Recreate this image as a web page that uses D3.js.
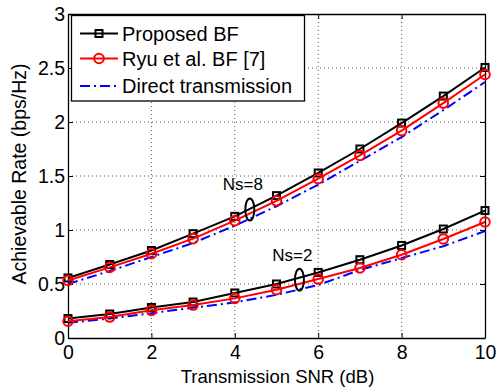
<!DOCTYPE html>
<html>
<head>
<meta charset="utf-8">
<script src="https://cdn.jsdelivr.net/npm/d3@7"></script>
<style>
  body { margin: 0; background: #fff; }
  svg text { font-family: "Liberation Sans", Arial, sans-serif; fill: #000; }
</style>
</head>
<body>
<div id="chart"></div>
<script>
// --- Data ---
const snr = [0, 1, 2, 3, 4, 5, 6, 7, 8, 9, 10];

const proposed8 = [0.556, 0.68, 0.81, 0.966, 1.126, 1.318, 1.528, 1.75, 1.99, 2.24, 2.505];
const ryu8      = [0.533, 0.654, 0.78, 0.92, 1.086, 1.27, 1.475, 1.69, 1.92, 2.175, 2.44];
const direct8   = [0.50, 0.62, 0.75, 0.88, 1.04, 1.22, 1.42, 1.64, 1.86, 2.11, 2.37];

const proposed2 = [0.18, 0.222, 0.283, 0.333, 0.417, 0.50, 0.607, 0.725, 0.857, 1.009, 1.18];
const ryu2      = [0.155, 0.194, 0.256, 0.305, 0.367, 0.447, 0.546, 0.648, 0.771, 0.917, 1.074];
const direct2   = [0.14, 0.18, 0.23, 0.28, 0.33, 0.40, 0.49, 0.63, 0.74, 0.85, 0.99];

const xTicks = [0, 2, 4, 6, 8, 10];
const yTicks = [0, 0.5, 1, 1.5, 2, 2.5, 3];

const legendNames = ['Proposed BF', 'Ryu et al. BF [7]', 'Direct transmission'];

// annotations: label + ellipse centre in data units
const notes = [
    { label: 'Ns=8', x: 4.36, y: 1.19 },
    { label: 'Ns=2', x: 5.55, y: 0.54 }
];

// --- Layout ---
const W = 496, H = 391;
const margin = { top: 14, right: 11, bottom: 53, left: 68 };
const width = W - margin.left - margin.right;
const height = H - margin.top - margin.bottom;

const svg = d3.select('#chart').append('svg')
    .attr('width', W)
    .attr('height', H);

const g = svg.append('g')
    .attr('transform', `translate(${margin.left},${margin.top})`);

const x = d3.scaleLinear().domain([0, 10]).range([0, width]);
const y = d3.scaleLinear().domain([0, 3]).range([height, 0]);

// grid
g.append('g').selectAll('line')
    .data(xTicks.slice(1, -1))
    .join('line')
    .attr('x1', d => x(d)).attr('x2', d => x(d))
    .attr('y1', 0).attr('y2', height)
    .attr('stroke', '#555').attr('stroke-width', 1)
    .attr('stroke-dasharray', '1,3');

g.append('g').selectAll('line')
    .data(yTicks.slice(1, -1))
    .join('line')
    .attr('x1', 0).attr('x2', width)
    .attr('y1', d => y(d)).attr('y2', d => y(d))
    .attr('stroke', '#555').attr('stroke-width', 1)
    .attr('stroke-dasharray', '1,3');

// axes
const xAxis = g.append('g')
    .attr('transform', `translate(0,${height})`)
    .call(d3.axisBottom(x).tickValues(xTicks).tickSize(-5).tickSizeOuter(0).tickPadding(7));
const yAxis = g.append('g')
    .call(d3.axisLeft(y).tickValues(yTicks).tickFormat(d3.format('')).tickSize(-5).tickSizeOuter(0).tickPadding(3));

g.append('g').call(d3.axisTop(x).tickValues(xTicks).tickSize(-5).tickSizeOuter(0).tickFormat(''));
g.append('g').attr('transform', `translate(${width},0)`)
    .call(d3.axisRight(y).tickValues(yTicks).tickSize(-5).tickSizeOuter(0).tickFormat(''));

svg.selectAll('.domain').attr('stroke', '#000').attr('stroke-width', 1.3);
svg.selectAll('.tick line').attr('stroke', '#000');
[xAxis, yAxis].forEach(a => a.selectAll('text')
    .style('font-family', '"Liberation Sans", Arial, sans-serif')
    .style('font-size', '19.5px')
    .attr('fill', '#000'));
xAxis.selectAll('text').attr('dy', '0.72em');

// axis labels
svg.append('text')
    .attr('x', margin.left + width / 2 + 1)
    .attr('y', 383)
    .attr('text-anchor', 'middle')
    .style('font-size', '18.5px')
    .text('Transmission SNR (dB)');

svg.append('text')
    .attr('transform', `translate(26,174) rotate(-90)`)
    .attr('text-anchor', 'middle')
    .style('font-size', '19.5px')
    .text('Achievable Rate (bps/Hz)');

// --- Series ---
const line = d3.line().x((d, i) => x(snr[i])).y(d => y(d));

function drawSeries(vals, color, dash, marker) {
    g.append('path')
        .datum(vals)
        .attr('fill', 'none')
        .attr('stroke', color)
        .attr('stroke-width', 2)
        .attr('stroke-dasharray', dash)
        .attr('d', line);

    if (marker === 'square') {
        g.append('g').selectAll('rect')
            .data(vals)
            .join('rect')
            .attr('x', (d, i) => x(snr[i]) - 3.5)
            .attr('y', d => y(d) - 3.5)
            .attr('width', 7).attr('height', 7)
            .attr('fill', 'none')
            .attr('stroke', color)
            .attr('stroke-width', 2);
    } else if (marker === 'circle') {
        g.append('g').selectAll('circle')
            .data(vals)
            .join('circle')
            .attr('cx', (d, i) => x(snr[i]))
            .attr('cy', d => y(d))
            .attr('r', 4.8)
            .attr('fill', 'none')
            .attr('stroke', color)
            .attr('stroke-width', 2);
    }
}

const dashDot = '10,4,2,4';

drawSeries(direct8, '#0000ff', dashDot, null);
drawSeries(direct2, '#0000ff', dashDot, null);
drawSeries(proposed8, '#000', null, 'square');
drawSeries(proposed2, '#000', null, 'square');
drawSeries(ryu8, '#ff0000', null, 'circle');
drawSeries(ryu2, '#ff0000', null, 'circle');

// --- Annotations ---
notes.forEach(n => {
    g.append('ellipse')
        .attr('cx', x(n.x))
        .attr('cy', y(n.y))
        .attr('rx', 4.5)
        .attr('ry', 11)
        .attr('fill', 'none')
        .attr('stroke', '#000')
        .attr('stroke-width', 2);
    g.append('text')
        .attr('x', x(n.x) - 7)
        .attr('y', y(n.y) - 19)
        .attr('text-anchor', 'middle')
        .style('font-size', '17px')
        .text(n.label);
});

// --- Legend ---
const legend = svg.append('g');
legend.append('rect')
    .attr('x', 71.5).attr('y', 15.5)
    .attr('width', 233).attr('height', 85.5)
    .attr('fill', '#fff')
    .attr('stroke', '#000')
    .attr('stroke-width', 1.3);

const legendStyles = [
    { color: '#000', dash: null, marker: 'square' },
    { color: '#ff0000', dash: null, marker: 'circle' },
    { color: '#0000ff', dash: dashDot, marker: null }
];
const legendY = [33.5, 58.5, 86];

legendNames.forEach((name, i) => {
    const s = legendStyles[i];
    const ly = legendY[i];
    legend.append('line')
        .attr('x1', 80).attr('x2', 118)
        .attr('y1', ly).attr('y2', ly)
        .attr('stroke', s.color)
        .attr('stroke-width', 2)
        .attr('stroke-dasharray', s.dash);
    if (s.marker === 'square') {
        legend.append('rect')
            .attr('x', 99 - 3.5).attr('y', ly - 3.5)
            .attr('width', 7).attr('height', 7)
            .attr('fill', 'none').attr('stroke', s.color).attr('stroke-width', 2);
    } else if (s.marker === 'circle') {
        legend.append('circle')
            .attr('cx', 99).attr('cy', ly).attr('r', 4.8)
            .attr('fill', 'none').attr('stroke', s.color).attr('stroke-width', 2);
    }
    legend.append('text')
        .attr('x', 122)
        .attr('y', ly + 7)
        .style('font-size', '20px')
        .text(name);
});
</script>
</body>
</html>
